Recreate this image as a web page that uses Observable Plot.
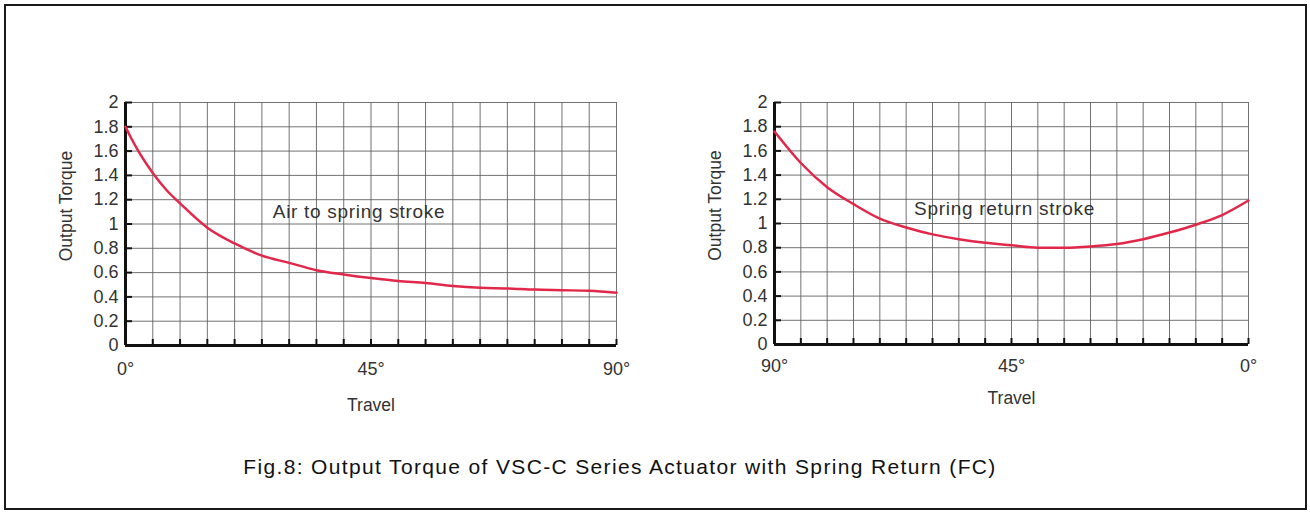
<!DOCTYPE html>
<html>
<head>
<meta charset="utf-8">
<script src="https://cdn.jsdelivr.net/npm/d3@7"></script>
<script src="https://cdn.jsdelivr.net/npm/@observablehq/plot@0.6"></script>
<style>
  html, body { margin: 0; padding: 0; background: #fff; }
  #page { position: relative; width: 1310px; height: 513px; overflow: hidden; background: #fff; }
  #frame { position: absolute; left: 4px; top: 4px; width: 1299px; height: 502px; border: 2px solid #1a1a1a; }
  .panel { position: absolute; top: 0; }
  #left { left: 0; }
  #right { left: 650px; }
  #caption { position: absolute; left: 0; width: 1240px; top: 455px; text-align: center;
             font-family: "Liberation Sans", Arial, sans-serif; font-size: 21px; color: #111; letter-spacing: 1.35px; }
  .note-text { letter-spacing: 0.7px; }
</style>
</head>
<body>
<div id="page">
  <div id="frame"></div>
  <div id="left" class="panel"></div>
  <div id="right" class="panel"></div>
  <div id="caption">Fig.8: Output Torque of VSC-C Series Actuator with Spring Return (FC)</div>
</div>
<script>
// ---- data ----
const gridTravel = [0, 5, 10, 15, 20, 25, 30, 35, 40, 45, 50, 55, 60, 65, 70, 75, 80, 85, 90];
const labelTravel = [0, 45, 90];
const torqueTicks = [0, 0.2, 0.4, 0.6, 0.8, 1, 1.2, 1.4, 1.6, 1.8, 2];

const airTravel = [0, 1, 2.5, 5, 7.5, 10, 15, 20, 25, 30, 35, 40, 45, 50, 55, 60, 65, 70, 75, 80, 85, 90];
const airTorque = [1.80, 1.71, 1.59, 1.42, 1.28, 1.17, 0.97, 0.84, 0.74, 0.68, 0.62, 0.585, 0.555, 0.53, 0.515, 0.49, 0.475, 0.47, 0.46, 0.455, 0.45, 0.435];

const springTravel = [90, 85, 80, 75, 70, 65, 60, 55, 50, 45, 40, 35, 30, 25, 20, 15, 10, 5, 0];
const springTorque = [1.76, 1.50, 1.30, 1.16, 1.04, 0.967, 0.91, 0.87, 0.84, 0.82, 0.80, 0.80, 0.81, 0.83, 0.87, 0.925, 0.99, 1.07, 1.19];

const airNote = [{travel: 27, torque: 1.1, text: "Air to spring stroke"}];
const springNote = [{travel: 63.5, torque: 1.12, text: "Spring return stroke"}];

const FONT = "Liberation Sans, Arial, sans-serif";
const LINE = "#e2284a";
const GRID = "#5a5a5a";
const INK = "#333";

function panel({width, height, ml, mr, mt, mb, reverse, travel, torque, note, xPad, travelDy}) {
  const pw = width - ml - mr, ph = height - mt - mb;
  const rows = travel.map((t, i) => ({travel: t, torque: torque[i]}));
  const svg = Plot.plot({
    width, height,
    marginLeft: ml, marginRight: mr, marginTop: mt, marginBottom: mb,
    style: {fontFamily: FONT, fontSize: "16px", color: INK, background: "transparent"},
    x: {domain: [0, 90], reverse},
    y: {domain: [0, 2]},
    marks: [
      Plot.gridX(gridTravel, {stroke: GRID, strokeOpacity: 0.85, strokeWidth: 1}),
      Plot.gridY(torqueTicks, {stroke: GRID, strokeOpacity: 0.85, strokeWidth: 1}),
      Plot.ruleX(gridTravel, {insetTop: ph - 6, stroke: "#111", strokeWidth: 2}),
      Plot.ruleY(torqueTicks, {insetRight: pw - 7, stroke: "#111", strokeWidth: 2}),
      Plot.ruleX([reverse ? 90 : 0], {stroke: "#111", strokeWidth: 3}),
      Plot.ruleY([0], {stroke: "#111", strokeWidth: 3}),
      Plot.line(rows, {x: "travel", y: "torque", stroke: LINE, strokeWidth: 2.5, curve: "monotone-x"}),
      Plot.text(note, {x: "travel", y: "torque", text: "text", textAnchor: "start", fontSize: 19, fill: INK}),
      Plot.axisY(torqueTicks, {tickSize: 0, tickPadding: 7, fontSize: 18, fill: INK, label: null, tickFormat: d => String(d)}),
      Plot.axisX(labelTravel, {tickSize: 0, tickPadding: xPad, fontSize: 18, fill: INK, label: null, tickFormat: d => d + "°"}),
      Plot.text(["Output Torque"], {frameAnchor: "left", textAnchor: "middle", lineAnchor: "middle", dx: -59, dy: -18, rotate: -90, fontSize: 17.5, fill: INK}),
      Plot.text(["Travel"], {frameAnchor: "bottom", textAnchor: "middle", lineAnchor: "middle", dy: travelDy, fontSize: 17.5, fill: INK})
    ]
  });
  // widen the in-plot annotation slightly, as in the original artwork
  d3.select(svg).selectAll("text")
    .filter(function() { return note.some(n => n.text === this.textContent); })
    .classed("note-text", true);
  return svg;
}

document.getElementById("left").appendChild(panel({
  width: 650, height: 430, ml: 125, mr: 34, mt: 102, mb: 85, reverse: false,
  travel: airTravel, torque: airTorque, note: airNote, xPad: 17, travelDy: 60
}));
document.getElementById("right").appendChild(panel({
  width: 660, height: 430, ml: 124, mr: 62, mt: 102, mb: 86, reverse: true,
  travel: springTravel, torque: springTorque, note: springNote, xPad: 15, travelDy: 54
}));
</script>
</body>
</html>
